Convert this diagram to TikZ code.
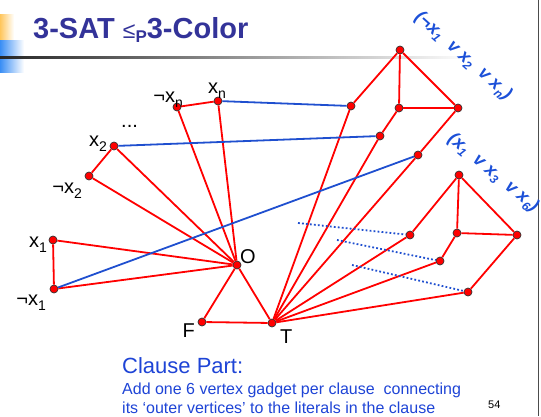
\documentclass[tikz,border=0pt]{standalone}
\usepackage{fontspec}
\setmainfont{Liberation Sans}
\usetikzlibrary{positioning}
\definecolor{TitleBlue}{HTML}{333399}
\definecolor{LinkBlue}{HTML}{1F4FCF}
\definecolor{TextBlue}{HTML}{1E44D6}
\definecolor{HandBlue}{HTML}{1C50D8}
\definecolor{BarYellow}{HTML}{FFC65C}
\definecolor{BarBlue}{HTML}{3A8EF5}
\newcommand{\lsub}[1]{\raisebox{-5pt}{\fontsize{14}{14}\selectfont #1}}
\newcommand{\csub}[1]{\raisebox{-4pt}{\fontsize{12}{12}\selectfont #1}}
\tikzset{
  vert/.style={circle, draw=black!80, fill=red, line width=0.7pt, inner sep=0pt, minimum size=8pt},
  lbl/.style={inner sep=0pt, font=\fontsize{20}{20}\selectfont},
  redline/.style={draw=red, line width=1.8pt},
  bluelink/.style={draw=LinkBlue, line width=1.8pt},
  dotlink/.style={draw=LinkBlue, line width=1.8pt, dash pattern=on 1.8pt off 2.2pt},
  clause/.style={inner sep=0pt, text=HandBlue, font=\fontsize{18}{18}\selectfont\bfseries\itshape},
  caption/.style={anchor=base west, inner sep=0pt, text=TextBlue}
}

\begin{document}
\begin{tikzpicture}[x=1pt, y=-1pt]
\useasboundingbox (0,0) rectangle (541,416);
% slide header
\shade[left color=BarYellow, right color=white] (0,14) rectangle (14,40);
\shade[left color=BarBlue, right color=white] (0,40) rectangle (24,72);
\shade[left color=black!85, right color=white] (0,56.5) rectangle (470,58.5);
\draw[black!70, line width=1pt] (538,0) -- (538,416);
\node[anchor=base west, inner sep=0pt, text=TitleBlue, font=\fontsize{29}{29}\selectfont\bfseries] (title) at (33,38)
  {3-SAT {\fontsize{23}{23}\mdseries ≤}\raisebox{-4pt}{\fontsize{17}{17}\selectfont P}3-Color};

% variable part
\node[vert] (vx1) at (53,240) {};
\node[vert] (vnx1) at (54,289) {};
\node[vert] (vnx2) at (89,176) {};
\node[vert] (vx2) at (114,146) {};
\node[vert] (vnxn) at (177,107) {};
\node[vert] (vxn) at (218,101) {};
\node[vert] (vO) at (237,265) {};
\node[vert] (vF) at (202,322) {};
\node[vert] (vT) at (272,323) {};

\node[lbl, anchor=base east] (lx1) at (47,247) {x\lsub{1}};
\node[lbl, anchor=base east] (lnx1) at (46,305) {¬x\lsub{1}};
\node[lbl, anchor=base east] (lnx2) at (82,193) {¬x\lsub{2}};
\node[lbl, anchor=base east] (lx2) at (107,146) {x\lsub{2}};
\node[lbl, anchor=base west] (ldots) at (121,127) {...};
\node[lbl, anchor=base east] (lnxn) at (183,102) {¬x\lsub{n}};
\node[lbl, anchor=base west] (lxn) at (208,93) {x\lsub{n}};
\node[lbl, anchor=base west] (lO) at (240,263) {O};
\node[lbl, anchor=base east] (lF) at (195,337) {F};
\node[lbl, anchor=base west] (lT) at (280,343) {T};

% clause gadgets
\node[vert] (atop) at (400,50) {};
\node[vert] (amid) at (399,108) {};
\node[vert] (aright) at (458,108) {};
\node[vert] (aout1) at (351,106) {};
\node[vert] (aout2) at (380,136) {};
\node[vert] (aout3) at (418,155) {};

\node[vert] (btop) at (459,175) {};
\node[vert] (bmid) at (457,233) {};
\node[vert] (bright) at (517,235) {};
\node[vert] (bout1) at (410,235) {};
\node[vert] (bout2) at (440,261) {};
\node[vert] (bout3) at (468,292) {};

\coordinate (d1) at (298,223);
\coordinate (d2) at (337,240);
\coordinate (d3) at (352,265);

\node[clause, rotate=-42] (c1) at (463,56) {(¬x\csub{1}\ \ v\ x\csub{2}\ \ v\ x\csub{n})};
\node[clause, rotate=-40] (c2) at (493,173) {(x\csub{1}\ \ v\ x\csub{3}\ \ v\ x\csub{6})};

% edges
\draw[redline] (vx1) -- (vnx1);
\draw[redline] (vx2) -- (vnx2);
\draw[redline] (vnxn) -- (vxn);
\draw[redline] (vO) -- (vx1);
\draw[redline] (vO) -- (vnx1);
\draw[redline] (vO) -- (vnx2);
\draw[redline] (vO) -- (vx2);
\draw[redline] (vO) -- (vnxn);
\draw[redline] (vO) -- (vxn);
\draw[redline] (vO) -- (vF);
\draw[redline] (vO) -- (vT);
\draw[redline] (vF) -- (vT);

\draw[redline] (vT) -- (aout1);
\draw[redline] (vT) -- (aout2);
\draw[redline] (vT) -- (aout3);
\draw[redline] (vT) -- (bout1);
\draw[redline] (vT) -- (bout2);
\draw[redline] (vT) -- (bout3);

\draw[redline] (aout1) -- (atop);
\draw[redline] (atop) -- (amid);
\draw[redline] (atop) -- (aright);
\draw[redline] (amid) -- (aright);
\draw[redline] (amid) -- (aout2);
\draw[redline] (aright) -- (aout3);

\draw[redline] (bout1) -- (btop);
\draw[redline] (btop) -- (bmid);
\draw[redline] (btop) -- (bright);
\draw[redline] (bmid) -- (bright);
\draw[redline] (bmid) -- (bout2);
\draw[redline] (bright) -- (bout3);

\draw[bluelink] (vxn) -- (aout1);
\draw[bluelink] (vx2) -- (aout2);
\draw[bluelink] (vnx1) -- (aout3);

\draw[dotlink] (d1) -- (bout1);
\draw[dotlink] (d2) -- (bout2);
\draw[dotlink] (d3) -- (bout3);

% caption
\node[caption, font=\fontsize{22}{22}\selectfont] (part) at (122,373) {Clause Part:};
\node[caption, font=\fontsize{16}{16}\selectfont] (note1) at (122,394) {Add one 6 vertex gadget per clause\ \ connecting};
\node[caption, font=\fontsize{16}{16}\selectfont] (note2) at (122,413) {its ‘outer vertices’ to the literals in the clause};
\node[anchor=base west, inner sep=0pt, font=\fontsize{11}{11}\selectfont] (page) at (488,408) {54};
\end{tikzpicture}
\end{document}
